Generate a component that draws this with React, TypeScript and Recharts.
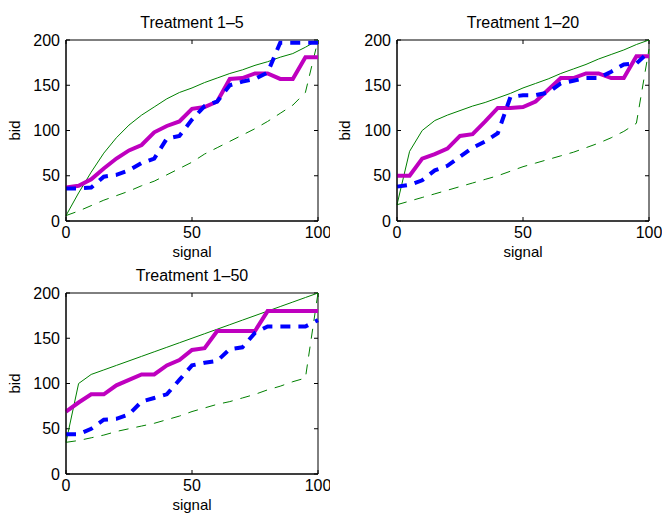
import React from 'react';
import { LineChart, Line, XAxis, YAxis, ReferenceArea, ReferenceLine } from 'recharts';

const signal = [0, 5, 10, 15, 20, 25, 30, 35, 40, 45, 50, 55, 60, 65, 70, 75, 80, 85, 90, 95, 100];
const xTicks = [0, 50, 100];
const yTicks = [0, 50, 100, 150, 200];

// Treatment 1-5
const t5Magenta = [37, 39, 46, 58, 69, 78, 84, 98, 105, 110, 124, 126, 132, 157, 158, 163, 163, 157, 157, 181, 181];
const t5Blue = [36, 36, 37, 49, 51, 56, 64, 69, 91, 94, 112, 127, 132, 150, 154, 157, 164, 197, 197, 197, 197];
const t5Green = [6, 31, 54, 75, 92, 106, 117, 126, 135, 142, 147, 153, 158, 163, 167, 172, 176, 181, 185, 192, 200];
const t5GreenDash = [6, 11, 17, 23, 28, 33, 39, 44, 51, 58, 65, 74, 81, 88, 95, 102, 110, 119, 128, 142, 200];

// Treatment 1-20
const t20Magenta = [50, 50, 69, 74, 80, 94, 96, 110, 125, 125, 126, 132, 145, 158, 158, 163, 163, 158, 158, 182, 182];
const t20Blue = [38, 40, 45, 56, 61, 71, 81, 88, 97, 137, 139, 139, 142, 152, 155, 158, 158, 165, 173, 174, 187];
const t20Green = [18, 77, 100, 111, 117, 122, 127, 131, 136, 141, 147, 152, 157, 163, 168, 173, 179, 184, 189, 195, 200];
const t20GreenDash = [18, 22, 26, 30, 34, 38, 42, 46, 50, 55, 60, 64, 68, 72, 76, 81, 86, 92, 99, 108, 190];

// Treatment 1-50
const t50Magenta = [69, 79, 88, 88, 98, 104, 110, 110, 120, 126, 137, 139, 158, 158, 158, 158, 180, 180, 180, 180, 180];
const t50Blue = [44, 44, 50, 60, 61, 66, 80, 84, 88, 104, 120, 123, 125, 138, 140, 156, 163, 163, 163, 163, 170];
const t50Green = [35, 100, 110, 115, 120, 125, 130, 135, 140, 145, 150, 155, 160, 165, 170, 175, 180, 185, 190, 195, 200];
const t50GreenDash = [35, 37, 40, 43, 47, 50, 53, 56, 60, 64, 69, 73, 77, 80, 84, 88, 93, 97, 102, 106, 200];

const build = (m: number[], b: number[], g: number[], gd: number[]) =>
  signal.map((s, i) => ({ signal: s, magenta: m[i], blue: b[i], green: g[i], greenDash: gd[i] }));

const font = '"Liberation Sans", Arial, Helvetica, sans-serif';
const tickStyle = { fontSize: 16, fill: '#000', fontFamily: font };

// plot box is 252 x 181 px; inward tick marks of 4px, in data units
const PLOT_W = 252;
const PLOT_H = 181;
const xMax = 100;
const yMax = 200;
const xTickLen = (4 * xMax) / PLOT_W;
const yTickLen = (4 * yMax) / PLOT_H;

const Panel = ({ title, data, left, top, yAxisWidth, width }: any) => (
  <div style={{ position: 'absolute', left, top }}>
    <div
      style={{
        position: 'absolute',
        left: yAxisWidth,
        top: 14,
        width: PLOT_W,
        textAlign: 'center',
        fontFamily: font,
        fontSize: 16,
        lineHeight: '18px',
        color: '#000',
      }}
    >
      {title}
    </div>
    <LineChart
      width={width}
      height={262}
      data={data}
      margin={{ top: 40, right: width - yAxisWidth - PLOT_W, bottom: 0, left: 0 }}
    >
      <XAxis
        dataKey="signal"
        type="number"
        domain={[0, xMax]}
        ticks={xTicks}
        interval={0}
        height={41}
        stroke="#000"
        tickLine={false}
        tickSize={0}
        tickMargin={6}
        tick={tickStyle}
        label={{ value: 'signal', position: 'insideBottom', offset: 5, fontSize: 15, fill: '#000', fontFamily: font }}
      />
      <YAxis
        type="number"
        domain={[0, yMax]}
        ticks={yTicks}
        interval={0}
        width={yAxisWidth}
        stroke="#000"
        tickLine={false}
        tickSize={0}
        tickMargin={6}
        tick={tickStyle}
        label={{
          value: 'bid',
          angle: -90,
          position: 'insideLeft',
          offset: 15,
          fontSize: 15,
          fill: '#000',
          fontFamily: font,
          style: { textAnchor: 'middle' },
        }}
      />
      <ReferenceArea x1={0} x2={xMax} y1={0} y2={yMax} fill="none" stroke="#000" strokeWidth={1} />
      {xTicks.map((t) => (
        <ReferenceLine key={`xb${t}`} segment={[{ x: t, y: 0 }, { x: t, y: yTickLen }]} stroke="#000" />
      ))}
      {xTicks.map((t) => (
        <ReferenceLine key={`xt${t}`} segment={[{ x: t, y: yMax }, { x: t, y: yMax - yTickLen }]} stroke="#000" />
      ))}
      {yTicks.map((t) => (
        <ReferenceLine key={`yl${t}`} segment={[{ x: 0, y: t }, { x: xTickLen, y: t }]} stroke="#000" />
      ))}
      {yTicks.map((t) => (
        <ReferenceLine key={`yr${t}`} segment={[{ x: xMax, y: t }, { x: xMax - xTickLen, y: t }]} stroke="#000" />
      ))}
      <Line type="linear" dataKey="green" stroke="#008000" strokeWidth={1} dot={false} isAnimationActive={false} />
      <Line
        type="linear"
        dataKey="greenDash"
        stroke="#008000"
        strokeWidth={1}
        strokeDasharray="10 8"
        dot={false}
        isAnimationActive={false}
      />
      <Line type="linear" dataKey="magenta" stroke="#bf00bf" strokeWidth={4} dot={false} isAnimationActive={false} />
      <Line
        type="linear"
        dataKey="blue"
        stroke="#0000ff"
        strokeWidth={4}
        strokeDasharray="10 8"
        dot={false}
        isAnimationActive={false}
      />
    </LineChart>
  </div>
);

export default function App() {
  return (
    <div style={{ position: 'absolute', left: 0, top: 0, width: 662, height: 515, background: '#fff', overflow: 'hidden' }}>
      <Panel title="Treatment 1–5" data={build(t5Magenta, t5Blue, t5Green, t5GreenDash)} left={0} top={0} yAxisWidth={66} width={330} />
      <Panel title="Treatment 1–20" data={build(t20Magenta, t20Blue, t20Green, t20GreenDash)} left={330} top={0} yAxisWidth={67} width={332} />
      <Panel title="Treatment 1–50" data={build(t50Magenta, t50Blue, t50Green, t50GreenDash)} left={0} top={253} yAxisWidth={66} width={330} />
    </div>
  );
}
